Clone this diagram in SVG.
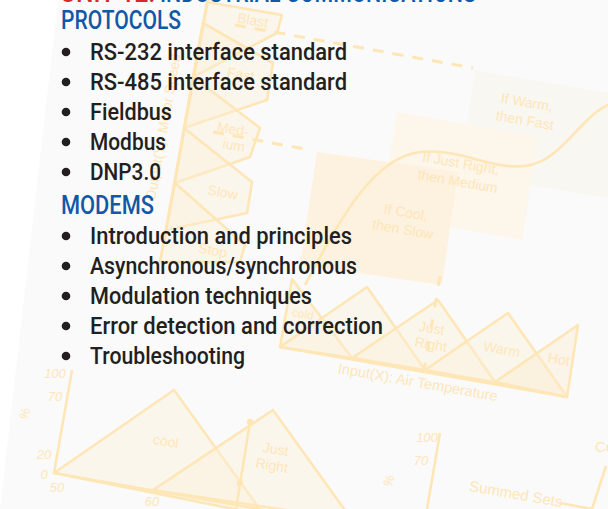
<svg xmlns="http://www.w3.org/2000/svg" width="608" height="509" viewBox="0 0 608 509">
<defs>
<style>
.ln{fill:none;stroke:#fee6b6;stroke-width:2.6;stroke-linejoin:round}
.sh{fill:#fdf0d8;fill-opacity:0.4;stroke:#fee6b6;stroke-width:2.6;stroke-linejoin:round}
.da{fill:none;stroke:#fee6b6;stroke-width:3;stroke-dasharray:11 9}
.lb{font-family:"Liberation Sans",Arial,sans-serif;font-size:14px;fill:#fee6b8;text-anchor:middle}
.nm{font-family:"Liberation Sans",Arial,sans-serif;font-size:13px;font-style:italic;fill:#fee6b8;text-anchor:middle}
.tx{font-family:Roboto,"Liberation Sans",Arial,sans-serif;font-weight:500;font-size:23px;fill:#231f20}
.hd{font-family:Roboto,"Liberation Sans",Arial,sans-serif;font-weight:500;font-size:25px;fill:#1158a7}
</style>
</defs>
<rect width="608" height="509" fill="#ffffff"/>
<polygon points="58,0 608,0 608,509 0,509" fill="#fafafa"/>

<g id="rule-boxes">
<polygon points="475,70 660,102 645,205 460,173" fill="#f9f7f1"/>
<polygon points="397,112 538,137 522,240 381,215" fill="#fdf6ea"/>
<polygon points="317,152 458,172 442,285 300,265" fill="#fdf2df"/>
<path class="ln" d="M305,285 C340,220 372,158 420,152 C462,148 490,170 525,166 C562,162 580,116 610,104"/>
<text class="lb" transform="translate(526,107) rotate(10)">If Warm,</text>
<text class="lb" transform="translate(524,125) rotate(10)">then Fast</text>
<text class="lb" transform="translate(460,168) rotate(10)">If Just Right,</text>
<text class="lb" transform="translate(457,186) rotate(10)">then Medium</text>
<text class="lb" transform="translate(405,217) rotate(10)">If Cool,</text>
<text class="lb" transform="translate(402,234) rotate(10)">then Slow</text>
</g>

<g id="output-chart">
<polygon class="sh" points="207,2 282,15 277,33 193,77"/>
<polygon class="sh" points="203,23 273,63 267,100 184,128"/>
<polygon class="sh" points="193,77 260,128 250,157 175,183"/>
<polygon class="sh" points="184,128 252,182 247,213 166,230"/>
<polygon class="sh" points="175,183 245,245 240,262 160,262"/>
<path class="ln" d="M208,0 L160,262"/>
<path class="da" d="M235,25 L473,68"/>
<path class="da" d="M213,132 L305,149"/>
<text class="lb" transform="translate(252,25) rotate(10)">Blast</text>
<text class="lb" transform="translate(240,79) rotate(10)">Fast</text>
<text class="lb" transform="translate(232,134) rotate(10)">Med-</text>
<text class="lb" transform="translate(233,150) rotate(10)">ium</text>
<text class="lb" transform="translate(222,197) rotate(10)">Slow</text>
<text class="lb" transform="translate(212,255) rotate(10)">Stop</text>
<text class="lb" transform="translate(168,128) rotate(-80)">Output(Y): Motor Speed</text>
</g>

<g id="input-chart">
<polygon class="sh" points="280,347 292,279 352,358"/>
<polygon class="sh" points="280,347 367,287 425,370"/>
<polygon class="sh" points="352,358 438,300 495,382"/>
<polygon class="sh" points="425,370 508,313 567,397"/>
<polygon class="sh" points="495,382 578,325 567,397" style="fill:#fdebcc"/>
<path class="ln" d="M280,347 L568,397"/>
<path class="da" d="M440,276 L424,370" style="stroke-dasharray:10 12"/>
<text class="lb" transform="translate(302,318) rotate(10)" style="font-size:12px">cold</text>
<text class="lb" transform="translate(431,333) rotate(10)">Just</text>
<text class="lb" transform="translate(430,349) rotate(10)">Right</text>
<text class="lb" transform="translate(501,354) rotate(10)">Warm</text>
<text class="lb" transform="translate(558,364) rotate(10)">Hot</text>
<text class="lb" transform="translate(417,387) rotate(10)" style="font-size:14.5px">Input(X): Air Temperature</text>
</g>

<g id="set-chart">
<polygon class="sh" points="54,473 174,390 264,515"/>
<polygon class="sh" points="153,490 273,410 352,520"/>
<path class="ln" d="M72,370 L54,473 L270,511"/>
<path class="ln" d="M250,422 L236,509"/>
<circle cx="250" cy="422" r="3.2" fill="#fee6b6"/>
<circle cx="240" cy="483" r="3.2" fill="#fee6b6"/>
<text class="lb" transform="translate(165,446) rotate(10)">cool</text>
<text class="lb" transform="translate(275,454) rotate(10)">Just</text>
<text class="lb" transform="translate(271,470) rotate(10)">Right</text>
<text class="nm" x="55" y="378">100</text>
<text class="nm" x="55" y="401">70</text>
<text class="nm" transform="translate(29,415) rotate(-75)">%</text>
<text class="nm" x="44" y="459">20</text>
<text class="nm" x="44" y="479">0</text>
<text class="nm" x="57" y="492">50</text>
<text class="nm" x="152" y="506">60</text>
</g>

<g id="sum-chart">
<path class="ln" d="M440,433 L427,509"/>
<path class="ln" d="M560,503 L592,509 L606,466"/>
<text class="nm" x="427" y="442">100</text>
<text class="nm" x="421" y="465">70</text>
<text class="nm" transform="translate(393,482) rotate(-75)">%</text>
<text class="lb" transform="translate(515,499) rotate(10)" style="font-size:15px">Summed Sets</text>
<text class="lb" x="595" y="452" style="text-anchor:start;font-size:15px">Co</text>
</g>

<g id="title">
<text x="60" y="2" class="hd" style="fill:#d7282f" textLength="95" lengthAdjust="spacingAndGlyphs">UNIT 12:</text>
<text x="160" y="2" class="hd" textLength="316" lengthAdjust="spacingAndGlyphs">INDUSTRIAL COMMUNICATIONS</text>
</g>

<g id="protocols">
<text x="61" y="29" class="hd" textLength="120" lengthAdjust="spacingAndGlyphs">PROTOCOLS</text>
<circle cx="66" cy="52" r="4.3" fill="#231f20"/>
<text x="90" y="60" class="tx" textLength="257" lengthAdjust="spacingAndGlyphs">RS-232 interface standard</text>
<circle cx="66" cy="82" r="4.3" fill="#231f20"/>
<text x="90" y="90" class="tx" textLength="257" lengthAdjust="spacingAndGlyphs">RS-485 interface standard</text>
<circle cx="66" cy="112" r="4.3" fill="#231f20"/>
<text x="90" y="120" class="tx" textLength="82" lengthAdjust="spacingAndGlyphs">Fieldbus</text>
<circle cx="66" cy="142" r="4.3" fill="#231f20"/>
<text x="90" y="150" class="tx" textLength="76" lengthAdjust="spacingAndGlyphs">Modbus</text>
<circle cx="66" cy="172" r="4.3" fill="#231f20"/>
<text x="90" y="180" class="tx" textLength="71" lengthAdjust="spacingAndGlyphs">DNP3.0</text>
</g>

<g id="modems">
<text x="61" y="214" class="hd" textLength="93" lengthAdjust="spacingAndGlyphs">MODEMS</text>
<circle cx="66" cy="236" r="4.3" fill="#231f20"/>
<text x="90" y="244" class="tx" textLength="262" lengthAdjust="spacingAndGlyphs">Introduction and principles</text>
<circle cx="66" cy="266" r="4.3" fill="#231f20"/>
<text x="90" y="274" class="tx" textLength="267" lengthAdjust="spacingAndGlyphs">Asynchronous/synchronous</text>
<circle cx="66" cy="296" r="4.3" fill="#231f20"/>
<text x="90" y="304" class="tx" textLength="222" lengthAdjust="spacingAndGlyphs">Modulation techniques</text>
<circle cx="66" cy="326" r="4.3" fill="#231f20"/>
<text x="90" y="334" class="tx" textLength="293" lengthAdjust="spacingAndGlyphs">Error detection and correction</text>
<circle cx="66" cy="356" r="4.3" fill="#231f20"/>
<text x="90" y="364" class="tx" textLength="155" lengthAdjust="spacingAndGlyphs">Troubleshooting</text>
</g>
</svg>
